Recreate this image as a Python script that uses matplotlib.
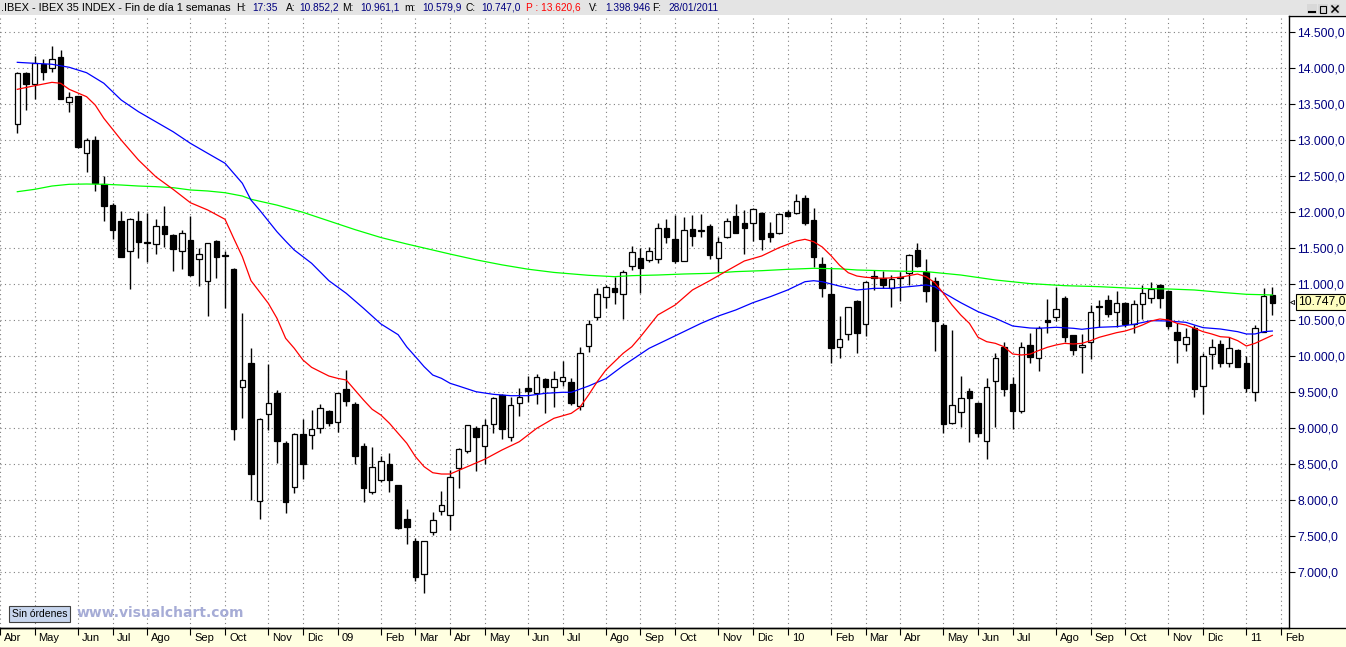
import numpy as np
import pandas as pd
import matplotlib
matplotlib.use("Agg")
import matplotlib.pyplot as plt
from matplotlib.patches import Rectangle
from matplotlib.lines import Line2D

plt.rcParams['font.family'] = ['Liberation Sans', 'DejaVu Sans']

# weekly IBEX 35 candles, 18/04/2008 .. 28/01/2011 (one per friday)
opens = [13220, 13930, 13780, 14055, 14010, 14150, 13527, 13615, 12820, 13005,
         12388, 12100, 11880, 11458, 11880, 11590, 11555, 11810, 11685, 11458,
         11615, 11347, 11041, 11601, 11400, 11213, 9569, 9902, 7990, 9194,
         9486, 8791, 8180, 8916, 8902, 9000, 9236, 9083, 9541, 9338,
         8754, 8111, 8282, 8500, 8208, 7736, 7435, 6972, 7555, 7856,
         7791, 8444, 8689, 9004, 8754, 9055, 9462, 8884, 9347, 9555,
         9485, 9680, 9569, 9657, 9639, 9310, 10143, 10541, 10819, 10944,
         10861, 11254, 11361, 11338, 11347, 11777, 11624, 11328, 11763, 11745,
         11810, 11361, 11652, 11949, 11847, 11847, 11990, 11712, 11708, 12009,
         11986, 12194, 11893, 11278, 10865, 10134, 10305, 10768, 10444, 11110,
         11083, 10954, 11090, 11152, 11477, 11176, 11046, 10435, 9069, 9231,
         9518, 9356, 8828, 9662, 10134, 9615, 9245, 10157, 9972, 10500,
         10541, 10805, 10296, 10124, 10203, 10700, 10782, 10620, 10736, 10449,
         10722, 10814, 10990, 10907, 10333, 10166, 10398, 9592, 10027, 10166,
         9912, 10088, 9902, 9500, 10342, 10852.2]
highs = [13950, 13950, 14170, 14125, 14310, 14255, 13671, 13620, 13030, 13060,
         12504, 12135, 12018, 11925, 12018, 11995, 11907, 12087, 11700, 11754,
         11953, 11500, 11575, 11610, 11463, 11230, 10597, 10111, 9140, 9893,
         9532, 8828, 8930, 9125, 9254, 9338, 9250, 9490, 9810, 9361,
         8791, 8745, 8620, 8652, 8210, 7875, 7472, 7440, 7842, 8129,
         8421, 8731, 9045, 9032, 9129, 9439, 9470, 9439, 9555, 9726,
         9754, 9700, 9796, 9935, 9694, 10125, 10504, 10954, 10986, 11106,
         11199, 11532, 11500, 11520, 11856, 11902, 11963, 11930, 11963, 11972,
         11837, 11652, 11916, 12116, 12032, 12055, 12000, 11870, 11995, 12032,
         12250, 12241, 12055, 11384, 11236, 10560, 10690, 10780, 11045, 11199,
         11190, 11129, 11176, 11421, 11578, 11347, 11097, 10458, 10365, 9727,
         9555, 9360, 9694, 10050, 10203, 9708, 10194, 10319, 10421, 10796,
         10967, 10838, 10300, 10310, 10713, 10782, 10851, 10907, 10759, 10782,
         10990, 11027, 11005, 10910, 10467, 10388, 10435, 10041, 10240, 10226,
         10263, 10097, 10004, 10430, 10944, 10961.1]
lows = [13100, 13420, 13570, 13840, 13950, 13575, 13398, 12900, 12565, 12300,
        11884, 11625, 11384, 10930, 11370, 11314, 11416, 11523, 11189, 11217,
        11120, 10981, 10564, 11092, 10675, 8837, 9139, 8004, 7736, 8976,
        8523, 7828, 8097, 8291, 8712, 8930, 9037, 8953, 9314, 8500,
        7981, 8088, 8250, 8120, 7605, 7393, 6883, 6708, 7518, 7791,
        7587, 8166, 8662, 8412, 8500, 8930, 8847, 8828, 9175, 9370,
        9338, 9208, 9291, 9587, 9324, 9254, 10055, 10504, 10675, 10726,
        10514, 11199, 10875, 11315, 11301, 11569, 11301, 11320, 11537, 11652,
        11356, 11176, 11640, 11710, 11421, 11606, 11472, 11592, 11700, 11940,
        11980, 11824, 11236, 10819, 9912, 9972, 10226, 10050, 10287, 10921,
        10950, 10690, 10773, 10991, 11245, 10759, 10078, 8930, 9060, 9013,
        8814, 8884, 8569, 9018, 9448, 8986, 9208, 9912, 9800, 10328,
        10490, 10203, 10018, 9773, 9958, 10412, 10550, 10412, 10412, 10319,
        10513, 10745, 10666, 10375, 9902, 10078, 9439, 9199, 9824, 9856,
        9856, 9850, 9500, 9384, 10340, 10579.9]
closes = [13930, 13780, 14070, 13945, 14125, 13580, 13606, 12912, 13005, 12412,
          12092, 11760, 11384, 11902, 11592, 11578, 11810, 11694, 11495, 11708,
          11129, 11416, 11569, 11384, 11407, 8990, 9671, 8361, 9125, 9347,
          8828, 7981, 8916, 8500, 8986, 9277, 9069, 9486, 9384, 8620,
          8175, 8458, 8550, 8282, 7611, 7625, 6939, 7435, 7726, 7935,
          8319, 8708, 9041, 8884, 9041, 9416, 8986, 9319, 9430, 9523,
          9717, 9578, 9689, 9708, 9347, 10041, 10444, 10861, 10958, 10898,
          11166, 11444, 11222, 11463, 11777, 11652, 11328, 11754, 11675, 11752,
          11412, 11583, 11875, 11717, 11777, 12042, 11624, 11652, 11972, 11949,
          12162, 11847, 11375, 10954, 10111, 10236, 10680, 10328, 11027, 11090,
          10991, 11069, 11100, 11407, 11259, 10912, 10495, 9055, 9319, 9416,
          9425, 8930, 9569, 9972, 9541, 9245, 10134, 9995, 10388, 10478,
          10652, 10273, 10088, 10157, 10611, 10680, 10587, 10736, 10449, 10722,
          10875, 10930, 10814, 10425, 10226, 10273, 9546, 10009, 10124, 9902,
          10111, 9856, 9564, 10388, 10838, 10747.0]

# moving averages (bar index, value)
red_i = [0, 2, 4, 5, 6, 8, 9, 10, 12, 14, 16, 18, 20, 22, 24, 25, 26, 27, 29, 30,
         31, 32, 33, 34, 35, 36, 37, 38, 39, 40, 41, 42, 43, 44, 45, 46, 47, 48, 49, 50,
         52, 54, 56, 58, 60, 62, 64, 65, 66, 67, 68, 70, 71, 72, 74, 76, 78, 80, 82, 84,
         86, 88, 90, 91, 92, 93, 94, 95, 96, 97, 98, 100, 102, 103, 104, 105, 106, 107, 108, 109,
         110, 111, 112, 113, 114, 115, 116, 117, 118, 119, 120, 121, 122, 123, 124, 125, 126, 127, 128, 129,
         130, 131, 132, 133, 134, 135, 136, 137, 138, 139, 140, 141, 142, 143, 144, 145]
red_v = [13708, 13758, 13805, 13792, 13708, 13606, 13490, 13305, 13004, 12726, 12494, 12319, 12133, 12032, 11903, 11639, 11383, 11050, 10736, 10528,
         10250, 10111, 9949, 9847, 9786, 9726, 9694, 9671, 9532, 9393, 9264, 9185, 9069, 8930, 8792, 8606, 8467, 8383, 8365, 8365,
         8467, 8570, 8699, 8814, 8999, 9139, 9208, 9292, 9463, 9647, 9810, 10042, 10133, 10272, 10574, 10712, 10921, 11050, 11189, 11324,
         11393, 11508, 11601, 11625, 11592, 11518, 11400, 11265, 11161, 11115, 11097, 11083, 11097, 11120, 11143, 11106, 11023, 10875, 10712, 10574,
         10458, 10264, 10203, 10180, 10133, 10032, 10018, 10030, 10080, 10125, 10157, 10180, 10171, 10180, 10217, 10264, 10296, 10328, 10351, 10389,
         10435, 10490, 10518, 10504, 10458, 10435, 10389, 10342, 10310, 10272, 10264, 10217, 10143, 10180, 10236, 10291]
blue_i = [0, 2, 4, 6, 8, 10, 12, 14, 16, 18, 20, 22, 24, 25, 26, 27, 28, 29, 30, 31,
          32, 34, 36, 38, 40, 42, 44, 45, 46, 47, 48, 49, 50, 51, 53, 55, 57, 59, 61, 63,
          64, 66, 68, 69, 70, 71, 73, 75, 77, 79, 81, 83, 85, 87, 89, 91, 92, 93, 95, 97,
          99, 101, 103, 105, 106, 107, 109, 111, 113, 115, 117, 118, 120, 122, 123, 125, 127, 129, 131, 133,
          135, 137, 139, 141, 142, 143, 144, 145]
blue_v = [14083, 14069, 14056, 14014, 13939, 13792, 13560, 13397, 13258, 13119, 12958, 12819, 12681, 12542, 12403, 12170, 12030, 11880, 11730, 11600,
          11476, 11292, 11050, 10875, 10667, 10450, 10300, 10130, 9995, 9856, 9740, 9694, 9625, 9587, 9508, 9472, 9453, 9453, 9486, 9500,
          9500, 9587, 9690, 9780, 9870, 9950, 10111, 10226, 10342, 10458, 10560, 10643, 10745, 10828, 10921, 11036, 11050, 11036, 10975, 10921,
          10944, 10944, 10967, 10991, 10967, 10884, 10745, 10620, 10528, 10421, 10393, 10389, 10403, 10389, 10375, 10403, 10412, 10444, 10495, 10490,
          10472, 10398, 10379, 10342, 10310, 10310, 10342, 10351]
green_i = [0, 2, 4, 6, 8, 10, 12, 14, 16, 18, 20, 22, 24, 26, 27, 30, 33, 36, 39, 42,
           45, 48, 50, 53, 56, 59, 62, 66, 69, 71, 74, 77, 80, 83, 86, 89, 92, 95, 97, 101,
           105, 109, 113, 117, 121, 125, 129, 133, 136, 139, 142, 145]
green_v = [12286, 12319, 12365, 12389, 12393, 12389, 12379, 12365, 12356, 12342, 12310, 12296, 12272, 12226, 12181, 12100, 12000, 11880, 11760, 11650,
           11560, 11476, 11420, 11340, 11270, 11210, 11165, 11125, 11106, 11120, 11129, 11143, 11152, 11176, 11189, 11208, 11222, 11215, 11199, 11185,
           11176, 11129, 11060, 11010, 10981, 10967, 10944, 10935, 10921, 10889, 10861, 10852]

month_names = ['Ene', 'Feb', 'Mar', 'Abr', 'May', 'Jun', 'Jul', 'Ago', 'Sep', 'Oct', 'Nov', 'Dic']
price_ticks = list(range(7000, 15000, 500))

# header segments: (x px, text, colour, size)
header = [(1, '.IBEX - IBEX 35 INDEX - Fin de día 1 semanas', 'black', 7.9),
          (236, 'H:', 'black', 7.4), (252, '17:35', '#000080', 7.3),
          (286, 'A:', 'black', 7.4), (299, '10.852,2', '#000080', 7.3),
          (342, 'M:', 'black', 7.4), (360, '10.961,1', '#000080', 7.3),
          (404, 'm:', 'black', 7.4), (422, '10.579,9', '#000080', 7.3),
          (465, 'C:', 'black', 7.4), (481, '10.747,0', '#000080', 7.3),
          (526, 'P : 13.620,6', '#ff0000', 7.3),
          (589, 'V:', 'black', 7.4), (605, '1.398.946', '#000080', 7.3),
          (652, 'F:', 'black', 7.4), (668, '28/01/2011', '#000080', 7.3)]

W, H = 1346, 647
TOP, BOT, RIGHT = 16, 628, 1289
X0, DX = 10.0, 8.705        # px of first bar, px per bar
Y0, DY = 32.3, 0.072        # px of 14.500, px per point


def fx(px):
    return px / W


def fy(py):
    return 1 - py / H


def es(v):
    return f"{v:,.1f}".replace(',', 'X').replace('.', ',').replace('X', '.')


fig = plt.figure(figsize=(W / 100, H / 100), dpi=100)
fig.patch.set_facecolor('white')

# header and x-axis band (behind the axes)
fig.patches.append(Rectangle((0, fy(15)), 1, 15 / H, transform=fig.transFigure,
                             facecolor='#e4e4e4', edgecolor='none', zorder=-2))
fig.patches.append(Rectangle((0, 0), 1, fy(BOT), transform=fig.transFigure,
                             facecolor='#ffffe1', edgecolor='none', zorder=-2))

ax = fig.add_axes([0, fy(BOT), fx(RIGHT), (BOT - TOP) / H])
ax.set_facecolor('none')
ax.set_xlim(-X0 / DX, (RIGHT - X0) / DX)
ax.set_ylim(14500 - (BOT - Y0) / DY, 14500 + (Y0 - TOP) / DY)

o = np.array(opens)
h = np.array(highs)
l = np.array(lows)
c = np.array(closes)
idx = np.arange(len(c))
up = c >= o

ax.vlines(idx, l, h, color='black', linewidth=1.0, zorder=3)
ax.bar(idx, np.maximum(np.abs(c - o), 1), bottom=np.minimum(o, c), width=0.64,
       color=np.where(up, 'white', 'black'), edgecolor='black', linewidth=0.9, zorder=4)

ax.plot(green_i, green_v, color='#00ff00', linewidth=0.9, zorder=5)
ax.plot(blue_i, blue_v, color='#0000ff', linewidth=0.9, zorder=5)
ax.plot(red_i, red_v, color='#ff0000', linewidth=0.9, zorder=5)

# month ticks (first friday of each month)
dates = pd.date_range('2008-04-04', '2011-02-04', freq='W-FRI')
pos = np.arange(len(dates)) - 2
first = np.r_[True, dates.month[1:] != dates.month[:-1]]
tick_pos = pos[first]
tick_lbl = [f"{d.year % 100:02d}" if d.month == 1 else month_names[d.month - 1] for d in dates[first]]

ax.set_xticks(tick_pos)
ax.set_xticklabels([])
ax.set_yticks(price_ticks)
ax.grid(True, color='#808080', linestyle=(0, (1, 3)), linewidth=0.8)
ax.set_axisbelow(True)
ax.tick_params(axis='x', direction='out', length=5, width=0.8, color='black')
ax.yaxis.tick_right()
ax.set_yticklabels([es(v) for v in price_ticks])
ax.tick_params(axis='y', direction='out', length=4, width=0.8, pad=2,
               labelsize=8.7, labelcolor='#000080', color='black')
for s in ['left', 'top']:
    ax.spines[s].set_visible(False)
for s in ['right', 'bottom']:
    ax.spines[s].set_linewidth(1.0)

tr = ax.get_xaxis_transform()
for p, t in zip(tick_pos, tick_lbl):
    ax.text(p + 4 / DX, -0.0165, t, transform=tr, ha='left', va='center',
            fontsize=8, color='black', clip_on=False)

# lines that frame the price panel
fig.add_artist(Line2D([0, 1], [fy(BOT), fy(BOT)], color='black', linewidth=1.0))
fig.add_artist(Line2D([fx(RIGHT), 1], [fy(TOP), fy(TOP)], color='black', linewidth=1.0))

# last price box
fig.text(fx(1298), fy(302), es(c[-1]), fontsize=8.7, color='black', ha='left', va='center',
         bbox=dict(boxstyle='square,pad=0.15', facecolor='#ffffc0', edgecolor='black', linewidth=0.8))
fig.add_artist(Line2D([fx(1292)], [fy(302)], marker='<', markersize=3, color='black',
                      markerfacecolor='none', markeredgewidth=0.6))

# header text
for x, t, col, fs in header:
    fig.text(fx(x), fy(8), t, fontsize=fs, color=col, ha='left', va='center')

# window buttons
for bx in [1307, 1318, 1330]:
    fig.patches.append(Rectangle((fx(bx), fy(14)), fx(10), 10 / H, transform=fig.transFigure,
                                 facecolor='#d8d8d8', edgecolor='none'))
fig.add_artist(Line2D([fx(1309), fx(1315)], [fy(12), fy(12)], color='black', linewidth=1.5))
fig.patches.append(Rectangle((fx(1320), fy(12.5)), fx(6), 7 / H, transform=fig.transFigure,
                             facecolor='none', edgecolor='black', linewidth=0.8))
fig.add_artist(Line2D([fx(1332), fx(1338)], [fy(6), fy(12)], color='black', linewidth=1.1))
fig.add_artist(Line2D([fx(1332), fx(1338)], [fy(12), fy(6)], color='black', linewidth=1.1))

# bottom-left button and watermark
fig.text(fx(12), fy(614), 'Sin órdenes', fontsize=7.5, color='black', ha='left', va='center',
         bbox=dict(boxstyle='square,pad=0.25', facecolor='#c8d6ee', edgecolor='#404040', linewidth=0.8))
fig.text(fx(77), fy(613), 'www.visualchart.com', fontsize=10, fontweight='bold',
         family='DejaVu Sans', color='#a6acd6', ha='left', va='center')

fig.savefig('out.png', dpi=100)
